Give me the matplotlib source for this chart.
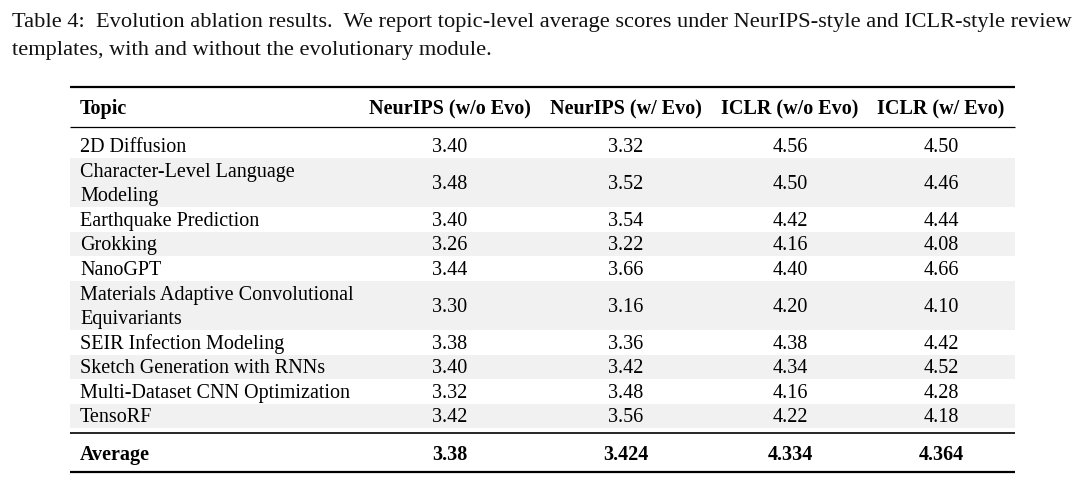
import matplotlib
matplotlib.use('Agg')

import matplotlib.pyplot as plt

# dados da tabela
topics = ['2D Diffusion', 'Character-Level Language\nModeling', 'Earthquake Prediction', 'Grokking',
          'NanoGPT', 'Materials Adaptive Convolutional\nEquivariants', 'SEIR Infection Modeling',
          'Sketch Generation with RNNs', 'Multi-Dataset CNN Optimization', 'TensoRF']
neurips_wo = [3.40, 3.48, 3.40, 3.26, 3.44, 3.30, 3.38, 3.40, 3.32, 3.42]
neurips_w = [3.32, 3.52, 3.54, 3.22, 3.66, 3.16, 3.36, 3.42, 3.48, 3.56]
iclr_wo = [4.56, 4.50, 4.42, 4.16, 4.40, 4.20, 4.38, 4.34, 4.16, 4.22]
iclr_w = [4.50, 4.46, 4.44, 4.08, 4.66, 4.10, 4.42, 4.52, 4.28, 4.18]
averages = ['3.38', '3.424', '4.334', '4.364']
headers = ['Topic', 'NeurIPS (w/o Evo)', 'NeurIPS (w/ Evo)', 'ICLR (w/o Evo)', 'ICLR (w/ Evo)']
caption = ['Table 4:  Evolution ablation results.  We report topic-level average scores under NeurIPS-style and ICLR-style review',
           'templates, with and without the evolutionary module.']

plt.rcParams['font.family'] = ['Liberation Serif', 'DejaVu Serif']

fig = plt.figure(figsize=(10.8, 4.8), dpi=100)
ax = fig.add_axes([0, 0, 1, 1])
ax.set_xlim(0, 1080)
ax.set_ylim(480, 0)
ax.axis('off')

fs = 14.5
dy = 2  # ajuste vertical do texto
left, right = 70, 1015
col_x = [450, 626, 790, 941]

# legenda (caption)
for yy, line in zip([23, 50], caption):
    ax.text(12, yy, line, ha='left', va='center', fontsize=16.1, color='#111111')

# linhas horizontais
ax.hlines(87, left, right, color='black', linewidth=1.6)
ax.hlines(127, left, right, color='black', linewidth=0.9)
ax.hlines(433, left, right, color='black', linewidth=1.2)
ax.hlines(472, left, right, color='black', linewidth=1.6)

# cabeçalho
ax.text(80, 107 + dy, headers[0], ha='left', va='center', fontsize=fs, fontweight='bold')
for x, h in zip(col_x, headers[1:]):
    ax.text(x, 107 + dy, h, ha='center', va='center', fontsize=fs, fontweight='bold')

# linhas da tabela
y = 133
for i, t in enumerate(topics):
    h = 49.5 if '\n' in t else 24.5
    if i % 2 == 1:
        ax.fill_between([left, right], y, y + h, color='#f1f1f1', linewidth=0)
    yc = y + h / 2 + dy
    ax.text(80, yc, t, ha='left', va='center', fontsize=fs, linespacing=1.33)
    vals = [neurips_wo[i], neurips_w[i], iclr_wo[i], iclr_w[i]]
    for x, v in zip(col_x, vals):
        ax.text(x, yc, f'{v:.2f}', ha='center', va='center', fontsize=fs)
    y += h

# média
ax.text(80, 453 + dy, 'Average', ha='left', va='center', fontsize=fs, fontweight='bold')
for x, a in zip(col_x, averages):
    ax.text(x, 453 + dy, a, ha='center', va='center', fontsize=fs, fontweight='bold')

fig.savefig('out.png', dpi=100)
plt.close(fig)
